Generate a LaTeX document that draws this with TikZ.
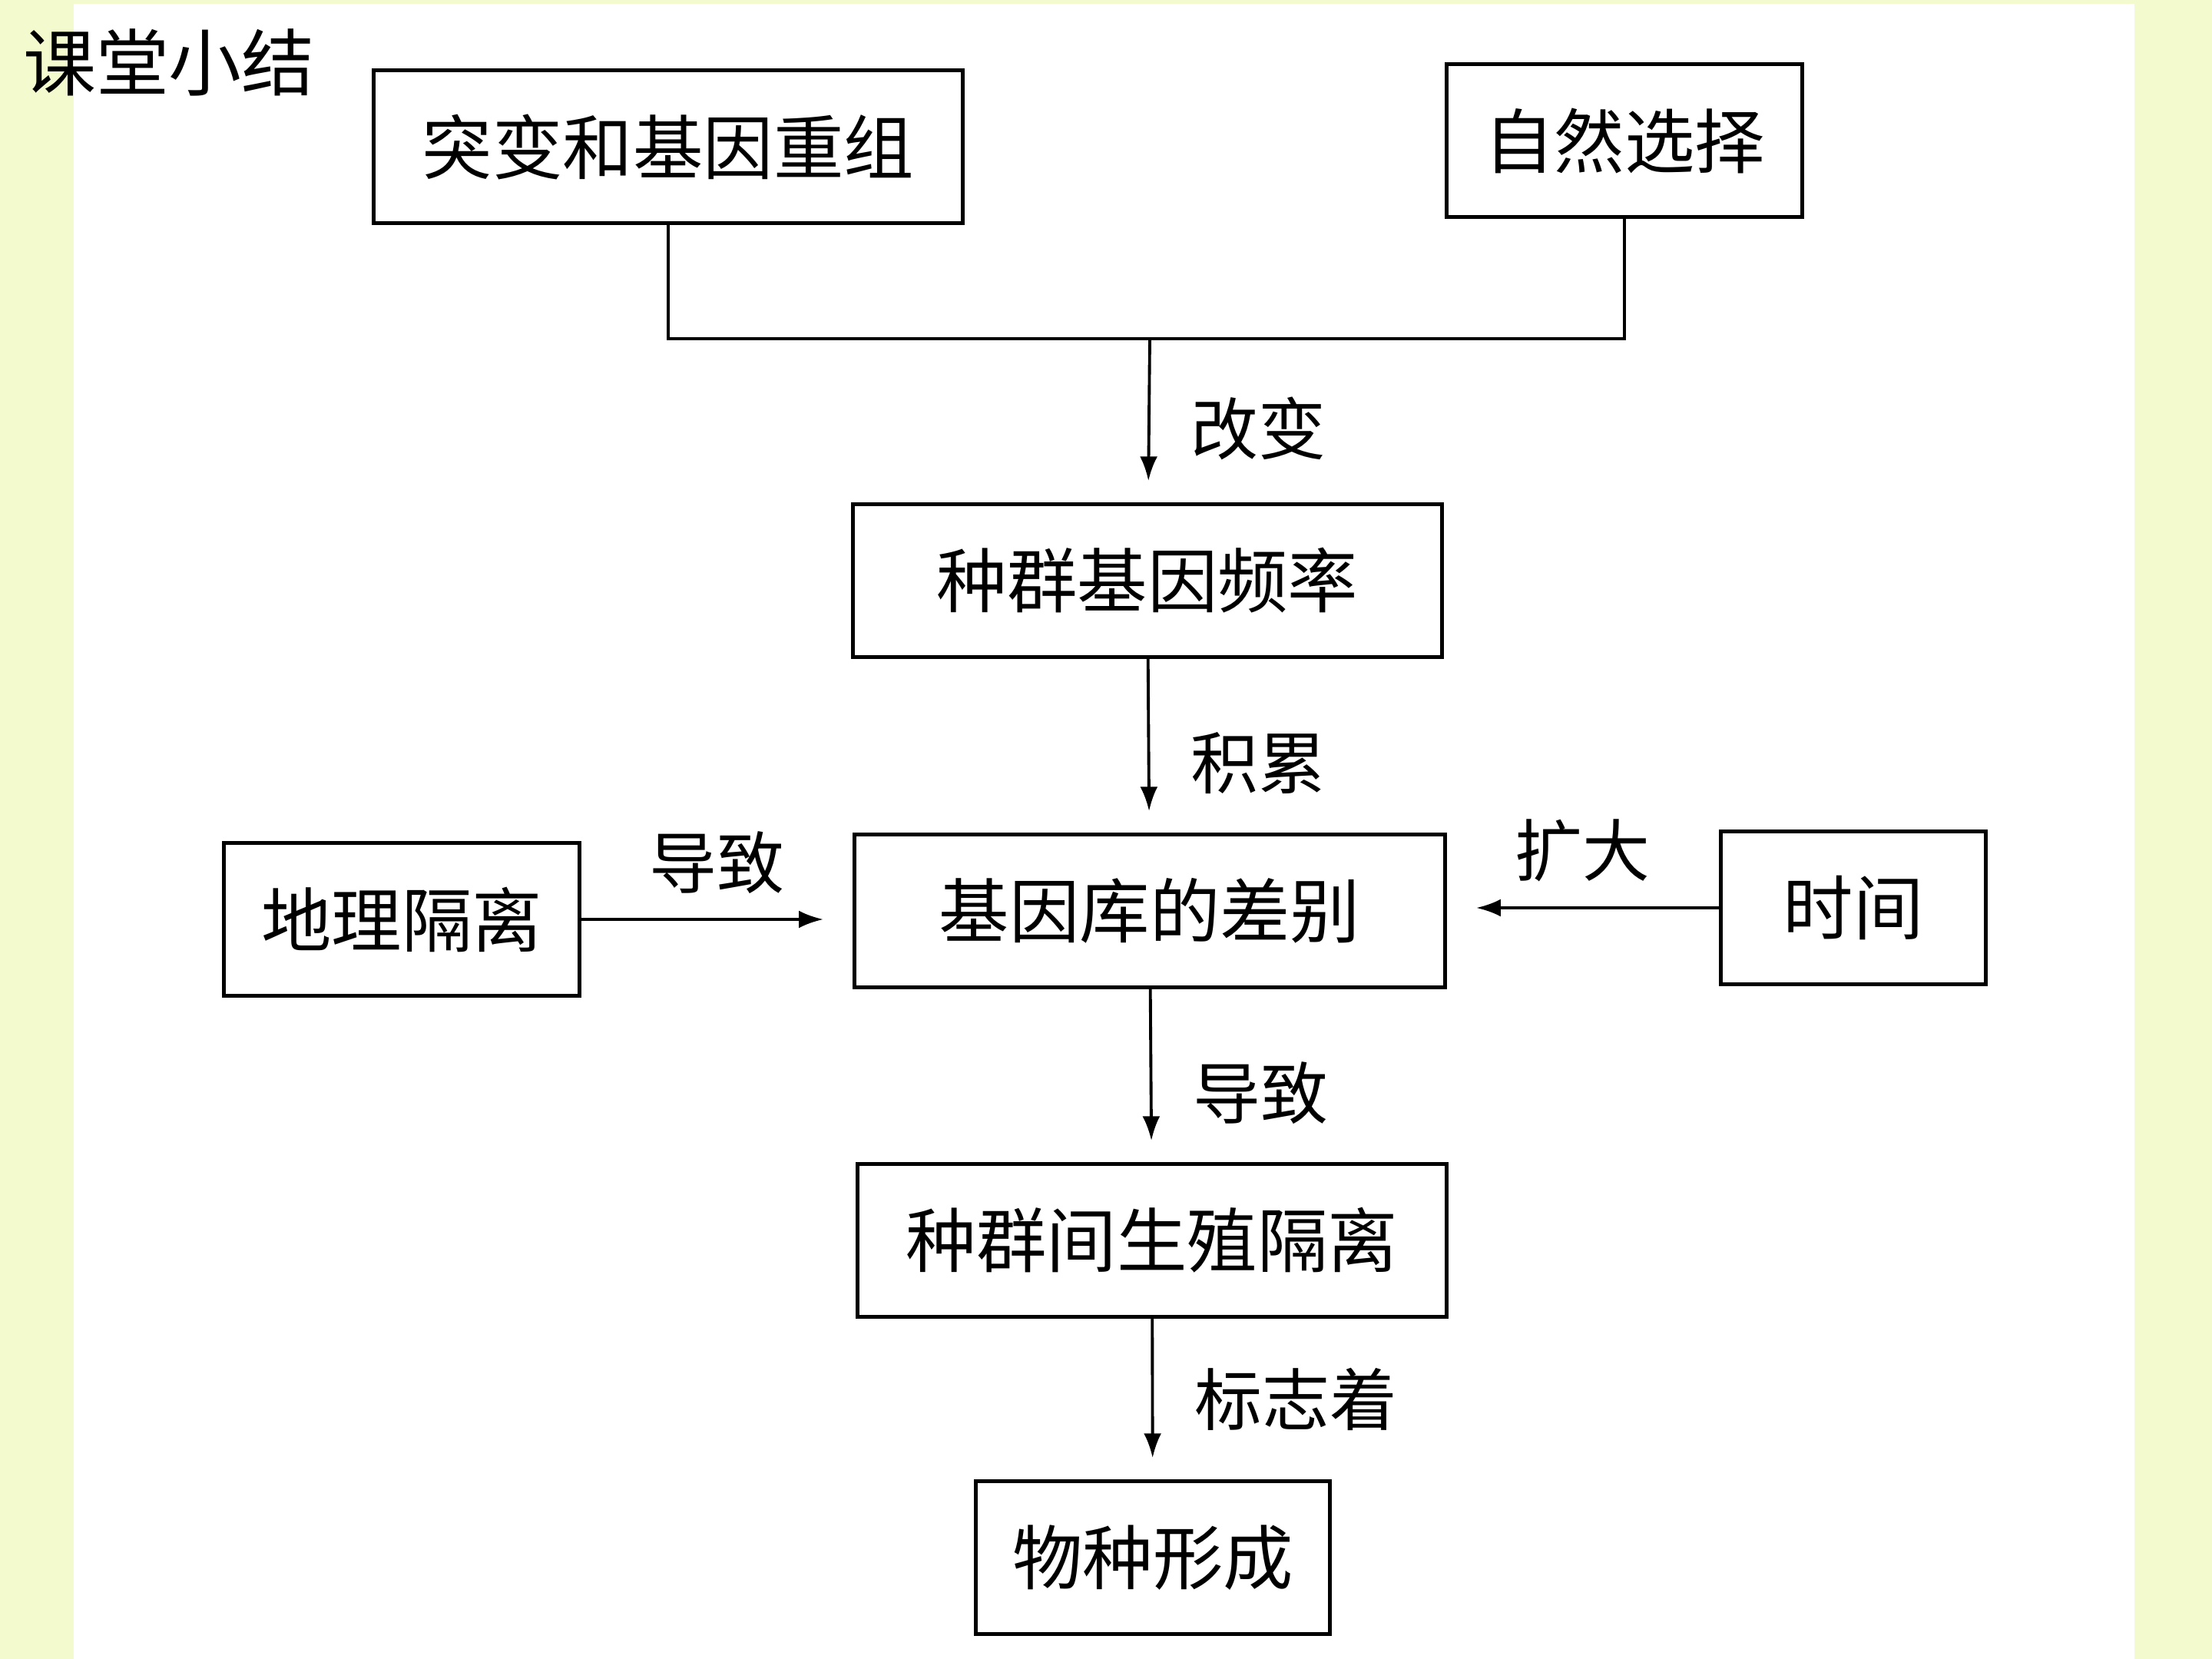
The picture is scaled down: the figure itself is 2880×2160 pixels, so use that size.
\documentclass[tikz,border=0pt]{standalone}
\usepackage{fontspec}
\setmainfont{Noto Sans CJK SC}
\usetikzlibrary{arrows.meta,positioning}
\definecolor{slidebg}{RGB}{243,251,206}
\tikzset{
box/.style={draw,line width=1.3pt,minimum height=1.99cm,inner sep=0pt,
font=\fontsize{26}{30}\selectfont},
lbl/.style={font=\fontsize{25}{30}\selectfont,inner sep=0pt},
link/.style={->,line width=1.1pt}
}
\begin{document}
\begin{tikzpicture}[x=0.01cm,y=-0.01cm,>={Latex[length=9pt,width=6.5pt]}]
\fill[slidebg] (0,0) rectangle (2880,2160);
\fill[white] (96,5) rectangle (2779,2160);
\useasboundingbox (0,0) rectangle (2880,2160);
\node[font=\fontsize{27}{30}\selectfont] (title) at (220,81) {课堂小结};
\node[box,minimum width=7.67cm] (mut) at (870,191) {突变和基因重组};
\node[box,minimum width=4.63cm] (sel) at (2115,183) {自然选择};
\node[box,minimum width=7.66cm] (freq) at (1494,756) {种群基因频率};
\node[box,minimum width=7.68cm] (pool) at (1497,1186) {基因库的差别};
\node[box,minimum width=4.63cm] (geo) at (523,1197) {地理隔离};
\node[box,minimum width=3.45cm] (time) at (2413,1182) {时间};
\node[box,minimum width=7.67cm] (repro) at (1500,1615) {种群间生殖隔离};
\node[box,minimum width=4.61cm] (spec) at (1501,2028) {物种形成};
\coordinate (join) at (1497,441);
\draw[line width=1.1pt] (mut.south) |- (join) -| (sel.south);
\path[shorten >=8pt]
(join) edge[link] node[lbl,pos=.55,right=15pt]{改变} (freq)
(freq) edge[link] node[lbl,pos=.6,right=15pt]{积累} (pool)
(pool) edge[link] node[lbl,pos=.6,right=15pt]{导致} (repro)
(repro) edge[link] node[lbl,right=15pt]{标志着} (spec);
\path[shorten >=11pt]
(geo) edge[link] node[lbl,above=9pt]{导致} (geo -| pool.west)
(time) edge[link] node[lbl,above=9pt]{扩大} (time -| pool.east);
\end{tikzpicture}
\end{document}
